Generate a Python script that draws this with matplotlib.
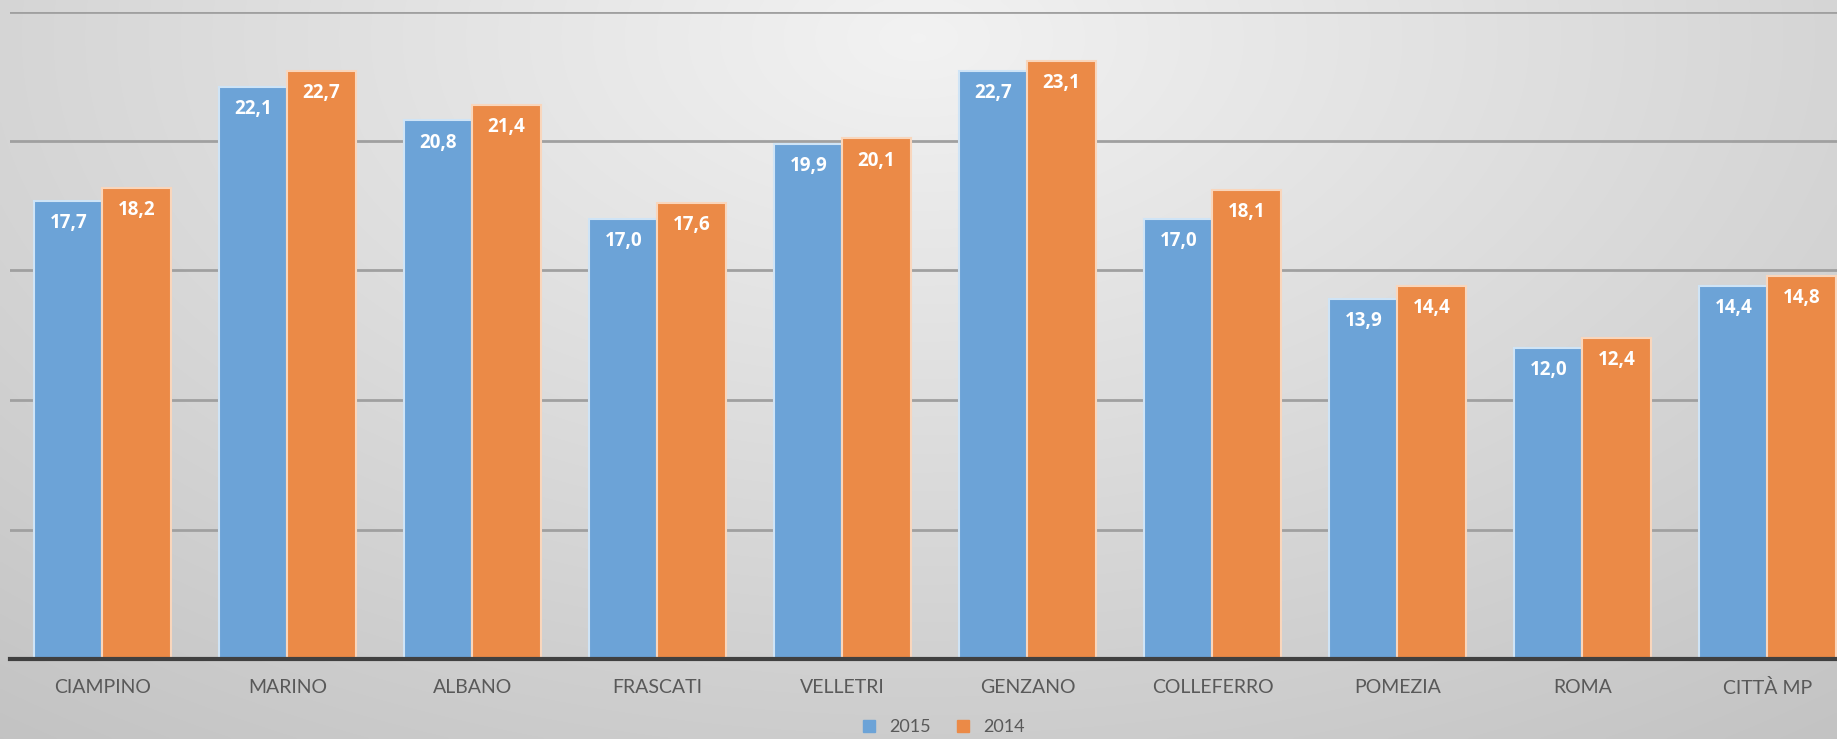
import numpy as np
import matplotlib
matplotlib.use("Agg")
import matplotlib.pyplot as plt
from matplotlib.lines import Line2D

categories = ["CIAMPINO", "MARINO", "ALBANO", "FRASCATI", "VELLETRI",
              "GENZANO", "COLLEFERRO", "POMEZIA", "ROMA", "CITTÀ MP"]
values_2015 = [17.7, 22.1, 20.8, 17.0, 19.9, 22.7, 17.0, 13.9, 12.0, 14.4]
values_2014 = [18.2, 22.7, 21.4, 17.6, 20.1, 23.1, 18.1, 14.4, 12.4, 14.8]
series_names = ["2015", "2014"]

BLUE = "#6CA3D7"
ORANGE = "#EB8A47"
BLUE_EDGE = "#CFE4F6"
ORANGE_EDGE = "#F9D6BC"

W, H = 1837, 739
fig = plt.figure(figsize=(W / 100, H / 100), dpi=100)

# background radial gradient
bg = fig.add_axes([0, 0, 1, 1], zorder=0)
yy, xx = np.mgrid[0:1:300j, 0:1:700j]
r = np.sqrt(((xx - 0.5) / 0.75) ** 2 + ((yy - 0.05) / 1.1) ** 2)
g = np.clip(0.95 - 0.17 * r, 0.76, 0.95)
img = np.dstack([g, g, g])
bg.imshow(img, aspect="auto", extent=[0, 1, 1, 0], interpolation="bilinear")
bg.set_axis_off()

x0 = 10 / W
bottom = (H - 659) / H
top = (H - 11.5) / H
ax = fig.add_axes([x0, bottom, 1 - x0, top - bottom], zorder=1)
ax.patch.set_alpha(0)

x = np.arange(len(categories))
bw = 0.368
b1 = ax.bar(x - bw / 2, values_2015, bw, color=BLUE, edgecolor=BLUE_EDGE,
            linewidth=1.5, zorder=3, label=series_names[0])
b2 = ax.bar(x + bw / 2, values_2014, bw, color=ORANGE, edgecolor=ORANGE_EDGE,
            linewidth=1.5, zorder=3, label=series_names[1])

for bars, vals in ((b1, values_2015), (b2, values_2014)):
    for rect, v in zip(bars, vals):
        ax.annotate(f"{v:.1f}".replace(".", ","),
                    (rect.get_x() + rect.get_width() / 2, v),
                    xytext=(0, -16), textcoords="offset points",
                    ha="center", va="center", color="white",
                    fontsize=13.5, fontweight="bold", family="Open Sans",
                    zorder=4, clip_on=True)

ax.set_xlim(-0.5, (W - 10) / 185 - 0.5)
ax.set_ylim(0, 25)
ax.set_yticks([5, 10, 15, 20, 25])
ax.yaxis.grid(True, color="#A0A0A0", linewidth=2, zorder=1)
ax.set_axisbelow(True)
ax.tick_params(axis="y", left=False, labelleft=False)
ax.tick_params(axis="x", bottom=False, pad=11)
ax.set_xticks(x)
ax.set_xticklabels(categories, fontsize=14, color="#595959", family="Lato")
for s in ["top", "right", "left"]:
    ax.spines[s].set_visible(False)
ax.spines["bottom"].set_color("#404040")
ax.spines["bottom"].set_linewidth(3)
ax.spines["bottom"].set_zorder(5)

handles = [Line2D([], [], marker="s", linestyle="", markersize=8, color=BLUE),
           Line2D([], [], marker="s", linestyle="", markersize=8, color=ORANGE)]
fig.legend(handles, series_names, loc="center", bbox_to_anchor=(938 / W, 1 - 727 / H),
           ncol=2, frameon=False, handletextpad=0.1,
           columnspacing=0.8, labelcolor="#595959", prop={"family": "Lato", "size": 13})

fig.savefig("out.png", dpi=100)
